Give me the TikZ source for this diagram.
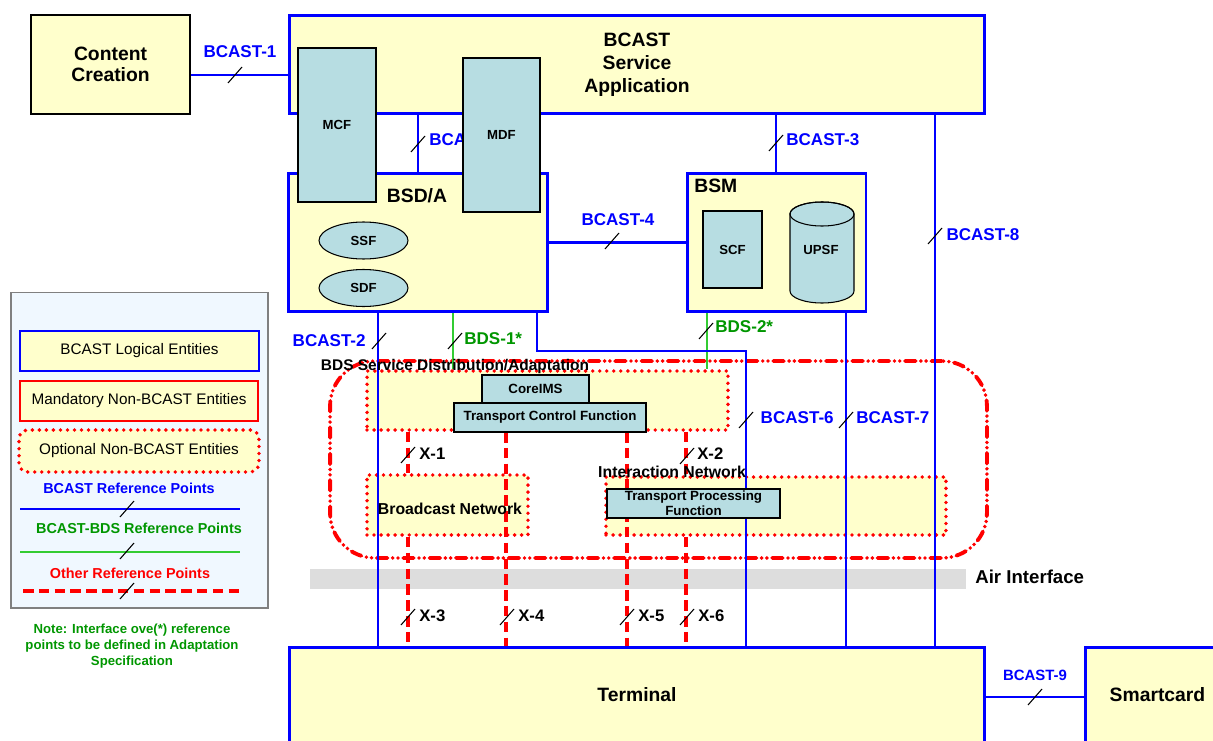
\documentclass[tikz,border=0pt]{standalone}
\usepackage{fontspec}
\setmainfont{Liberation Sans}
\usetikzlibrary{shapes.geometric, calc}

\definecolor{entfill}{RGB}{255,255,204}
\definecolor{fnfill}{RGB}{183,221,226}
\definecolor{refblue}{RGB}{0,0,255}
\definecolor{refgreen}{RGB}{51,204,51}
\definecolor{txtgreen}{RGB}{0,150,0}
\definecolor{refred}{RGB}{255,0,0}
\definecolor{legfill}{RGB}{240,248,255}
\definecolor{airgray}{RGB}{221,221,221}

% slash mark across a reference point line
\newcommand{\refslash}[2]{\draw[slash] (#1,#2) ++(-7,8) -- ++(14,-16);}

\begin{document}
\begin{tikzpicture}[
    x=0.02cm, y=-0.02cm,
    every node/.style={inner sep=0pt},
    entity/.style={rectangle, draw=refblue, line width=1.7pt, fill=entfill,
      align=center, font=\bfseries\fontsize{11}{13}\selectfont},
    plainbox/.style={rectangle, draw=black, line width=0.6pt, fill=entfill,
      align=center, font=\bfseries\fontsize{11}{12}\selectfont},
    func/.style={rectangle, draw=black, line width=0.6pt, fill=fnfill,
      align=center, font=\bfseries\fontsize{7.5}{9}\selectfont},
    funcell/.style={ellipse, draw=black, line width=0.6pt, fill=fnfill,
      font=\bfseries\fontsize{7.5}{9}\selectfont},
    optbox/.style={rectangle, fill=entfill, draw=refred, line width=2.2pt,
      dash pattern=on 0pt off 4pt, line cap=round},
    bdsarea/.style={rectangle, rounded corners=0.9cm, draw=refred, line width=2.2pt,
      dash pattern=on 6pt off 3pt on 0pt off 3pt on 0pt off 3pt, line cap=round},
    bref/.style={draw=refblue, line width=1.5pt},
    gref/.style={draw=refgreen, line width=1.1pt},
    xref/.style={draw=refred, line width=2.2pt, dash pattern=on 6pt off 3pt},
    slash/.style={draw=black, line width=0.6pt},
    blab/.style={text=refblue, font=\bfseries\fontsize{9.7}{11}\selectfont},
    glab/.style={text=txtgreen, font=\bfseries\fontsize{9.7}{11}\selectfont},
    xlab/.style={font=\bfseries\fontsize{9.5}{11}\selectfont},
    netlab/.style={font=\bfseries\fontsize{9}{11}\selectfont},
    legtext/.style={font=\fontsize{8.7}{10}\selectfont},
    legref/.style={font=\bfseries\fontsize{8.2}{10}\selectfont}
]
\useasboundingbox (0,0) rectangle (1213,740);

% legend
\node[rectangle, draw=gray, line width=0.6pt, fill=legfill,
  minimum width=5.14cm, minimum height=6.32cm] (legend) at (139.5,450) {};
\node[entity, line width=1.5pt, legtext, minimum width=4.78cm, minimum height=0.8cm]
  (lgbcast) at (139.5,351) {BCAST Logical Entities};
\node[rectangle, draw=refred, line width=0.8pt, fill=entfill, legtext,
  minimum width=4.76cm, minimum height=0.8cm] (lgmand) at (139,401) {Mandatory Non-BCAST Entities};
\node[optbox, rounded corners=5pt, legtext, minimum width=4.8cm, minimum height=0.84cm]
  (lgopt) at (139,451) {Optional Non-BCAST Entities};
\node[legref, text=refblue] (lgbtxt) at (129,488) {BCAST Reference Points};
\draw[bref] (20,509) -- (240,509);
\refslash{127}{509}
\node[legref, text=txtgreen] (lggtxt) at (139,528) {BCAST-BDS Reference Points};
\draw[gref] (20,552) -- (240,552);
\refslash{127}{551}
\node[legref, text=refred] (lgrtxt) at (130,573) {Other Reference Points};
\draw[xref] (23,591) -- (241,591);
\refslash{127}{591}
\node[text=txtgreen, align=center, font=\bfseries\fontsize{7.5}{9.2}\selectfont]
  (note) at (132,646) {Note: Interface ove(*) reference\\points to be defined in Adaptation\\Specification};

% entities
\node[plainbox, minimum width=3.18cm, minimum height=1.98cm] (cc) at (110.5,64.5) {Content\\Creation};
\node[entity, minimum width=13.92cm, minimum height=1.98cm] (bsa) at (637,64.5) {BCAST\\Service\\Application};
\node[entity, minimum width=5.2cm, minimum height=2.78cm] (bsda) at (418,242.5) {};
\node[font=\bfseries\fontsize{11}{13}\selectfont] (bsdalab) at (417,196) {BSD/A};
\node[entity, minimum width=3.58cm, minimum height=2.78cm] (bsm) at (776.5,242.5) {};
\node[font=\bfseries\fontsize{11}{13}\selectfont, anchor=west] (bsmlab) at (694,186) {BSM};

% BCAST-1, BCAST-5, BCAST-3, BCAST-4
\coordinate (c5) at (418,0);
\coordinate (c3) at (776,0);
\draw[bref] ([yshift=-0.21cm]cc.east) -- ([yshift=-0.21cm]cc.east -| bsa.west);
\node[blab] (l1) at (240,52) {BCAST-1};
\refslash{235}{75}
\draw[bref] (bsa.south -| c5) -- (bsda.north -| c5);
\node[blab, anchor=west] (l5) at (429,140) {BCAST-5};
\refslash{418}{144}
\draw[bref] (bsa.south -| c3) -- (bsm.north -| c3);
\node[blab, anchor=west] (l3) at (786,140) {BCAST-3};
\refslash{776}{143}
\draw[bref] (bsda.east) -- (bsm.west);
\node[blab] (l4) at (618,220) {BCAST-4};
\refslash{612}{241}

% functions
\node[funcell, minimum width=1.78cm, minimum height=0.74cm] (ssf) at (363.5,240.5) {SSF};
\node[funcell, minimum width=1.78cm, minimum height=0.74cm] (sdf) at (363.5,288) {SDF};
\node[func, minimum width=1.18cm, minimum height=1.54cm] (scf) at (732.5,249.5) {SCF};
\filldraw[fill=fnfill, draw=black, line width=0.6pt] (790,214) -- (790,291)
  arc[start angle=180, end angle=360, x radius=0.64cm, y radius=0.24cm] -- (854,214)
  arc[start angle=0, end angle=180, x radius=0.64cm, y radius=0.24cm] -- cycle;
\draw[line width=0.6pt] (822,214) ellipse[x radius=0.64cm, y radius=0.24cm];
\node[font=\bfseries\fontsize{7.5}{9}\selectfont] (upsf) at (821,250) {UPSF};
\node[func, minimum width=1.56cm, minimum height=3.08cm] (mcf) at (337,125) {MCF};
\node[func, minimum width=1.54cm, minimum height=3.08cm] (mdf) at (501.5,135) {MDF};

% BDS area
\node[bdsarea, minimum width=13.14cm, minimum height=3.94cm] (bdsa) at (658.5,459.5) {};
\node[rectangle, fill=airgray, minimum width=13.12cm, minimum height=0.4cm] (air) at (638,579) {};
\node[font=\bfseries\fontsize{10.6}{12}\selectfont, anchor=west] (airlab) at (975,577) {Air Interface};
\node[optbox, minimum width=7.22cm, minimum height=1.18cm] (bds) at (547.5,400.5) {};
\node[optbox, minimum width=3.22cm, minimum height=1.2cm] (bnet) at (447.5,505) {};
\node[optbox, minimum width=6.8cm, minimum height=1.16cm] (inet) at (776,506) {};

% terminal side
\node[entity, minimum width=13.92cm, minimum height=1.92cm] (term) at (637,695) {Terminal};
\node[entity, minimum width=2.9cm, minimum height=1.92cm] (smart) at (1157.5,695) {Smartcard};
\draw[bref] ([yshift=-0.04cm]term.east) -- ([yshift=-0.04cm]smart.west);
\node[blab, font=\bfseries\fontsize{8.5}{10}\selectfont] (l9) at (1035,675) {BCAST-9};
\refslash{1035}{697}

% other reference points
\coordinate (cx1) at (408,0);
\coordinate (cx4) at (506,0);
\coordinate (cx5) at (627,0);
\coordinate (cx2) at (686,0);
\coordinate (tcfbot) at (0,432);
\draw[xref] (bds.south -| cx1) -- (bnet.north -| cx1);
\draw[xref] (bnet.south -| cx1) -- (term.north -| cx1);
\draw[xref] (tcfbot -| cx4) -- (term.north -| cx4);
\draw[xref] (tcfbot -| cx5) -- (term.north -| cx5);
\draw[xref] (bds.south -| cx2) -- (inet.north -| cx2);
\draw[xref] (inet.south -| cx2) -- (term.north -| cx2);

% BCAST-BDS reference points
\coordinate (cb1) at (453,0);
\coordinate (cb2) at (707,0);
\draw[gref] (bsda.south -| cb1) -- (bds.north -| cb1);
\draw[gref] (bsm.south -| cb2) -- (bds.north -| cb2);

% BCAST reference points to terminal
\coordinate (c2) at (378,0);
\coordinate (c6a) at (537,0);
\coordinate (c6) at (746,0);
\coordinate (c7) at (846,0);
\coordinate (c8) at (935,0);
\coordinate (bend6) at (0,351);
\draw[bref] (bsda.south -| c2) -- (term.north -| c2);
\draw[bref] (bsda.south -| c6a) |- (bend6 -| c6) -- (term.north -| c6);
\draw[bref] (bsm.south -| c7) -- (term.north -| c7);
\draw[bref] (bsa.south -| c8) -- (term.north -| c8);

% BDS functions
\node[func, font=\bfseries\fontsize{7.6}{9}\selectfont, minimum width=2.14cm, minimum height=0.56cm] (coreims) at (535.5,389) {CoreIMS};
\node[func, font=\bfseries\fontsize{7.6}{9}\selectfont, minimum width=3.84cm, minimum height=0.58cm] (tcf) at (550,417.5) {Transport Control Function};
\node[func, font=\bfseries\fontsize{7.6}{8.6}\selectfont, minimum width=3.46cm, minimum height=0.58cm] (tpf) at (693.5,503.5) {Transport Processing\\Function};

% labels
\node[netlab, font=\bfseries\fontsize{8.8}{10}\selectfont] (bdslab) at (455,366) {BDS Service Distribution/Adaptation};
\node[netlab] (bnetlab) at (450,509) {Broadcast Network};
\node[netlab] (inetlab) at (672,472) {Interaction Network};
\node[blab] (l8) at (983,235) {BCAST-8};
\refslash{935}{236}
\node[blab, anchor=east] (l2) at (366,341) {BCAST-2};
\refslash{379}{341}
\node[glab, anchor=west] (lb1) at (464,339) {BDS-1*};
\refslash{455}{341}
\node[glab, anchor=west] (lb2) at (715,327) {BDS-2*};
\refslash{706}{331}
\node[blab, anchor=east] (l6) at (834,418) {BCAST-6};
\refslash{746}{420}
\node[blab, anchor=west] (l7) at (856,418) {BCAST-7};
\refslash{846}{420}
\node[xlab, anchor=west] (x1) at (419,454) {X-1};
\refslash{408}{455}
\node[xlab, anchor=west] (x2) at (697,454) {X-2};
\refslash{687}{456}
\node[xlab, anchor=west] (x3) at (419,616) {X-3};
\refslash{408}{617}
\node[xlab, anchor=west] (x4) at (518,616) {X-4};
\refslash{507}{617}
\node[xlab, anchor=west] (x5) at (638,616) {X-5};
\refslash{627}{617}
\node[xlab, anchor=west] (x6) at (698,616) {X-6};
\refslash{687}{617}
\end{tikzpicture}
\end{document}
